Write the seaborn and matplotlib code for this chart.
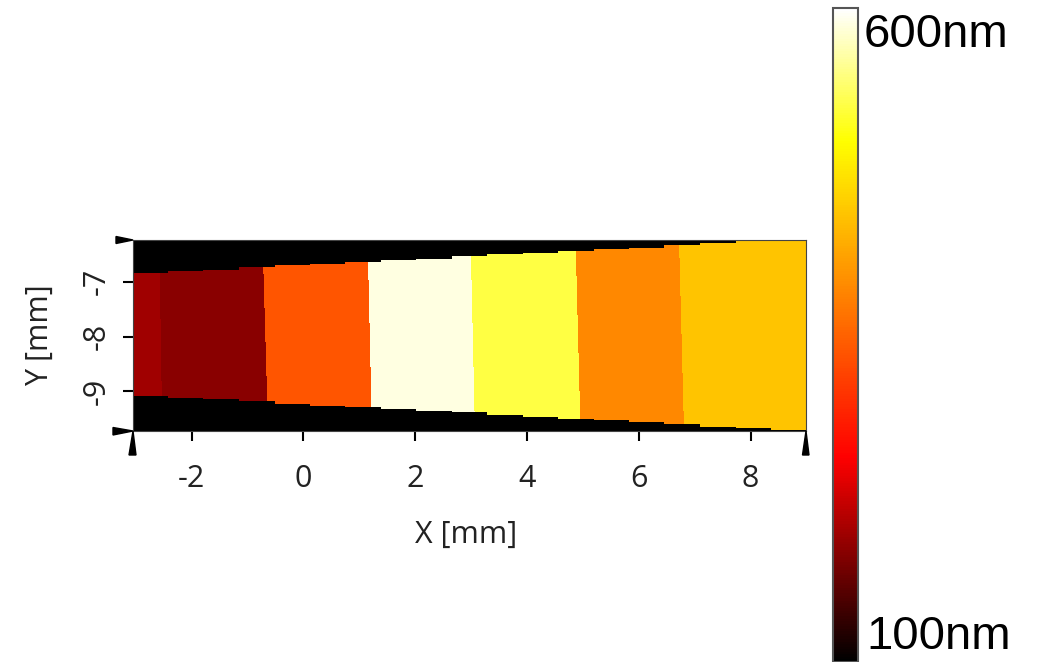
"""
Height map of the scanned strip (X/Y in mm, height in nm) with a hot colour bar.
"""

import numpy as np
import matplotlib
matplotlib.use("Agg")
import matplotlib.pyplot as plt
from matplotlib.colors import LinearSegmentedColormap
from matplotlib.patches import Polygon
import seaborn as sns

sns.set_theme(style="white")
plt.rcParams["font.family"] = ["Open Sans", "DejaVu Sans"]

# --- data -------------------------------------------------------------
# scan columns (left/right edges, mm) and where the strip starts/ends in each
col_edges = [-3.05, -2.42, -1.78, -1.15, -0.51, 0.12, 0.76, 1.39, 2.02, 2.66,
             3.29, 3.93, 4.56, 5.20, 5.83, 6.46, 7.10, 7.73, 8.37, 9.00]
band_top = [-6.84, -6.80, -6.77, -6.74, -6.70, -6.67, -6.64, -6.60, -6.57, -6.54,
            -6.50, -6.47, -6.44, -6.40, -6.37, -6.34, -6.30, -6.27, -6.24]
band_bottom = [-9.07, -9.11, -9.14, -9.18, -9.21, -9.25, -9.28, -9.31, -9.35, -9.38,
               -9.42, -9.45, -9.49, -9.52, -9.56, -9.59, -9.63, -9.66, -9.70]

# step boundaries (x, mm) read near the top and near the bottom of the strip
seg_bound_top = [-2.58, -0.73, 1.15, 2.99, 4.87, 6.72]
seg_bound_bottom = [-2.53, -0.64, 1.22, 3.06, 4.95, 6.80]
seg_height = [198, 185, 337, 588, 524, 386, 443]   # nm, left to right
background = 100                                    # nm, outside the strip

x_ticks = [-2, 0, 2, 4, 6, 8]
y_ticks = [-9, -8, -7]
x_lim = (-3.05, 9.00)
y_lim = (-9.71, -6.24)
v_lim = (100, 600)
cbar_labels = ["100nm", "600nm"]

# colour bar (black -> red -> yellow -> white)
hot = LinearSegmentedColormap.from_list(
    "hot_ref", [(0.0, "#000000"), (0.313, "#ff0000"), (0.798, "#ffff00"), (1.0, "#ffffff")])

# --- raster -----------------------------------------------------------
step = 0.02
xs = np.arange(x_lim[0] + step / 2, x_lim[1], step)
ys = np.arange(y_lim[1] - step / 2, y_lim[0], -step)   # top row first
X, Y = np.meshgrid(xs, ys)

col = np.clip(np.searchsorted(col_edges, X, side="right") - 1, 0, len(band_top) - 1)
inside = (Y <= np.array(band_top)[col]) & (Y >= np.array(band_bottom)[col])

y_ref_top, y_ref_bot = -6.55, -9.35
frac = (y_ref_top - Y) / (y_ref_top - y_ref_bot)
seg = np.zeros(X.shape, dtype=int)
for bt, bb in zip(seg_bound_top, seg_bound_bottom):
    seg += X > bt + (bb - bt) * frac
Z = np.where(inside, np.array(seg_height)[seg], background)

# --- figure -----------------------------------------------------------
W, H = 1041, 662
fig = plt.figure(figsize=(W / 100, H / 100), dpi=100)


def fpos(x, y):
    return (x / W, 1 - y / H)


ax = fig.add_axes([133 / W, 1 - 431 / H, 673 / W, 191 / H])
cax = fig.add_axes([833 / W, 0.0, 25 / W, (H - 8) / H])

sns.heatmap(Z, cmap=hot, vmin=v_lim[0], vmax=v_lim[1], ax=ax, cbar_ax=cax,
            xticklabels=False, yticklabels=False, rasterized=True)

ax.set_xticks((np.array(x_ticks) - x_lim[0]) / step)
ax.set_xticklabels([str(t) for t in x_ticks])
ax.set_yticks((y_lim[1] - np.array(y_ticks)) / step)
ax.set_yticklabels([str(t) for t in y_ticks], rotation=90, va="center")
ax.tick_params(axis="both", direction="out", length=7.5, width=1.5, color="black",
               labelsize=22, labelcolor="#222222", bottom=True, left=True)
ax.tick_params(axis="x", pad=16)
ax.tick_params(axis="y", pad=8)
for s in ax.spines.values():
    s.set_visible(True)
    s.set_color("#444444")
    s.set_linewidth(0.8)

fig.text(*fpos(466, 535), "X [mm]", ha="center", va="center", fontsize=22, color="#222222")
fig.text(*fpos(40, 335), "Y [mm]", ha="center", va="center", rotation=90,
         fontsize=22, color="#222222")

# colour bar: no ticks, just the end labels
cax.set_yticks([])
cbar = ax.collections[0].colorbar
cbar.outline.set_edgecolor("#555555")
cbar.outline.set_linewidth(1.5)
fig.text(*fpos(864, 35), cbar_labels[1], ha="left", va="center", fontsize=34,
         family="Liberation Sans", color="black")
fig.text(*fpos(866, 637), cbar_labels[0], ha="left", va="center", fontsize=34,
         family="Liberation Sans", color="black")

# little wedge marks at the axis ends
wedges = [
    [(133, 240), (116, 236.5), (116, 243.5)],
    [(133, 431), (113, 427.5), (113, 435)],
    [(133, 431), (129, 455), (136, 455)],
    [(806, 431), (802.5, 455), (809, 455)],
]
for pts in wedges:
    fig.patches.append(Polygon([fpos(*p) for p in pts], closed=True, color="black",
                               transform=fig.transFigure, figure=fig))

fig.savefig("out.png", dpi=100)
